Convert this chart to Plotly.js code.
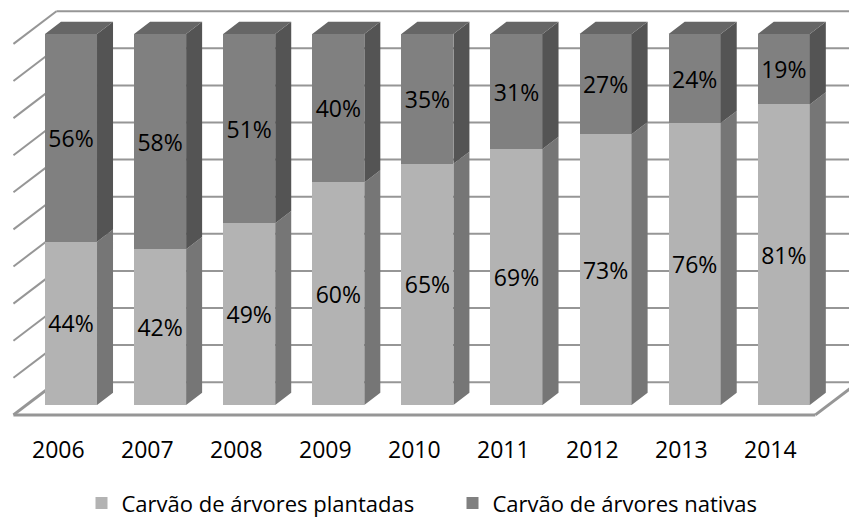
<!DOCTYPE html>
<html>
<head>
<meta charset="utf-8">
<script src="https://cdn.plot.ly/plotly-3.0.1.min.js"></script>
<style>
  html, body { margin: 0; padding: 0; background: #ffffff; }
  #chart { width: 849px; height: 520px; }
</style>
</head>
<body>
<div id="chart"></div>
<script>
// Share of charcoal by origin, 2006-2014 (%)
const years = ['2006', '2007', '2008', '2009', '2010', '2011', '2012', '2013', '2014'];
const plantadas = [44, 42, 49, 60, 65, 69, 73, 76, 81];
const nativas = [56, 58, 51, 40, 35, 31, 27, 24, 19];
const seriesNames = ['Carvão de árvores plantadas', 'Carvão de árvores nativas'];

// Colours: front faces, side faces, top face
const COL = {
  lightFront: '#b3b3b3', darkFront: '#808080',
  lightSide: '#767676', darkSide: '#545454',
  darkTop: '#666666', grid: '#969696'
};
const FONT = 'Open Sans, Noto Sans, sans-serif';

// Oblique 3-D projection: depth d (px to the right) also lifts the point.
const PX_PER_CAT = 89.1, PX_PER_PCT = 3.71, SLOPE = 0.76;
function P(x, v, d) { return [x + d / PX_PER_CAT, v + SLOPE * d / PX_PER_PCT]; }

const BAR_W = 0.584;          // bar width, category units
const BAR_D = 16;             // bar depth
const FLOOR_FRONT = -13;      // depth of the floor's front edge
const WALL = 30;              // depth of the back wall
const X0 = -0.5, X1 = years.length - 0.5;

const idx = years.map((_, i) => i);

// Side faces and top faces built from the stacked values
function sideFaces(lo, hi) {
  const xs = [], ys = [];
  idx.forEach(i => {
    const xr = i + BAR_W / 2;
    [P(xr, lo[i], 0), P(xr, lo[i], BAR_D), P(xr, hi[i], BAR_D), P(xr, hi[i], 0), P(xr, lo[i], 0)]
      .forEach(p => { xs.push(p[0]); ys.push(p[1]); });
    xs.push(null); ys.push(null);
  });
  return { xs, ys };
}
const zero = idx.map(() => 0);
const total = idx.map(i => plantadas[i] + nativas[i]);
const lightSide = sideFaces(zero, plantadas);
const darkSide = sideFaces(plantadas, total);

const topX = [], topY = [];
idx.forEach(i => {
  const xl = i - BAR_W / 2, xr = i + BAR_W / 2, v = total[i];
  [P(xl, v, 0), P(xr, v, 0), P(xr, v, BAR_D), P(xl, v, BAR_D), P(xl, v, 0)]
    .forEach(p => { topX.push(p[0]); topY.push(p[1]); });
  topX.push(null); topY.push(null);
});

function poly(f, color) {
  return {
    type: 'scatter', mode: 'lines', x: f.xs, y: f.ys, fill: 'toself',
    fillcolor: color, line: { width: 0, color: color },
    hoverinfo: 'skip', showlegend: false
  };
}

function frontBars(name, values, color) {
  return {
    type: 'bar', name: name, x: idx, y: values, width: BAR_W,
    marker: { color: color, line: { width: 0 } },
    texttemplate: '%{y}%', textposition: 'inside', insidetextanchor: 'middle',
    textfont: { family: FONT, size: 23, color: '#000000' }, hoverinfo: 'skip'
  };
}

const traces = [
  frontBars(seriesNames[0], plantadas, COL.lightFront),
  frontBars(seriesNames[1], nativas, COL.darkFront),
  poly(lightSide, COL.lightSide),
  poly(darkSide, COL.darkSide),
  poly({ xs: topX, ys: topY }, COL.darkTop)
];

// Walls and floor
const shapes = [];
function seg(a, b, w) {
  shapes.push({
    type: 'line', xref: 'x', yref: 'y', layer: 'below',
    x0: a[0], y0: a[1], x1: b[0], y1: b[1],
    line: { color: COL.grid, width: w }
  });
}
for (let v = 0; v <= 100; v += 10) {
  seg(P(X0, v, WALL), P(X1, v, WALL), 2);                 // back wall
  if (v > 0) seg(P(X0, v, FLOOR_FRONT), P(X0, v, WALL), 2); // side wall
}
seg(P(X0, 0, FLOOR_FRONT), P(X1, 0, FLOOR_FRONT), 3);
seg(P(X1, 0, FLOOR_FRONT), P(X1, 0, WALL), 3);
seg(P(X0, 0, FLOOR_FRONT), P(X0, 0, WALL), 3);

// Category labels under the floor's front edge
const annotations = years.map((yr, i) => {
  const p = P(i, 0, FLOOR_FRONT);
  return {
    x: p[0], y: -11.9, xref: 'x', yref: 'y', text: yr, showarrow: false,
    xanchor: 'center', yanchor: 'middle',
    font: { family: FONT, size: 23, color: '#000000' }
  };
});

const layout = {
  width: 849, height: 520,
  margin: { l: 0, r: 0, t: 0, b: 0, autoexpand: false },
  paper_bgcolor: '#ffffff', plot_bgcolor: '#ffffff',
  barmode: 'stack',
  xaxis: { range: [-71 / PX_PER_CAT, (849 - 71) / PX_PER_CAT], visible: false, fixedrange: true },
  yaxis: { range: [(405 - 520) / PX_PER_PCT, 405 / PX_PER_PCT], visible: false, fixedrange: true },
  shapes: shapes,
  annotations: annotations,
  showlegend: true,
  legend: {
    orientation: 'h', x: 0.096, xanchor: 'left', y: -0.008, yanchor: 'bottom',
    font: { family: FONT, size: 22, color: '#000000' },
    itemwidth: 30, entrywidth: 326, bgcolor: 'rgba(0,0,0,0)', traceorder: 'normal'
  },
  hovermode: false
};

Plotly.newPlot('chart', traces, layout, { displayModeBar: false, staticPlot: true });
</script>
</body>
</html>
